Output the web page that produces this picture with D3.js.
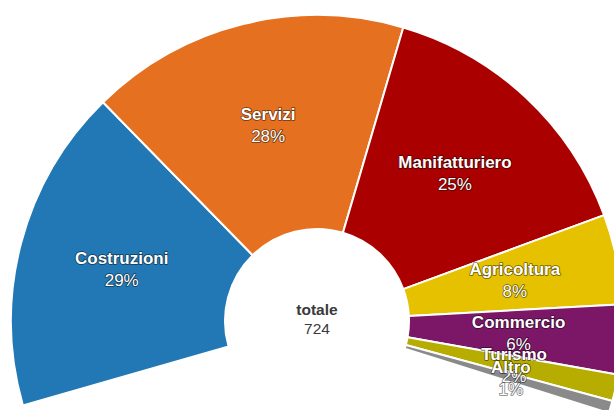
<!DOCTYPE html>
<html>
<head>
<meta charset="utf-8">
<script src="https://cdn.jsdelivr.net/npm/d3@7"></script>
<style>
  body { margin: 0; background: #fff; }
  svg { display: block; font-family: "Liberation Sans", Arial, sans-serif; }
</style>
</head>
<body>
<div id="wrapper"></div>
<script>
// data
const categories = ["Costruzioni", "Servizi", "Manifatturiero", "Agricoltura", "Commercio", "Turismo", "Altro"]
const counts = [209, 206, 181, 58, 45, 17, 8]
const percentLabels = ["29%", "28%", "25%", "8%", "6%", "2%", "1%"]
const colors = ["#2178b4", "#e5701f", "#ab0000", "#e5c100", "#7c1767", "#b6ad00", "#8a8a8a"]
const totalLabel = "totale"
const totalValue = 724

function drawChart() {
  const width = 614
  const height = 410
  const center = { x: 317, y: 321 }
  const outerRadius = 306
  const innerRadius = 92

  const dataset = categories.map((c, i) => ({ name: c, value: counts[i], pct: percentLabels[i], color: colors[i] }))

  const svg = d3.select("#wrapper")
    .append("svg")
    .attr("width", width)
    .attr("height", height)

  const bounds = svg.append("g")
    .attr("transform", `translate(${center.x},${center.y})`)

  // semi-donut, a bit wider than a half circle
  const pie = d3.pie()
    .sort(null)
    .value(d => d.value)
    .startAngle(-106 * Math.PI / 180)
    .endAngle(107.5 * Math.PI / 180)

  const arc = d3.arc()
    .innerRadius(innerRadius)
    .outerRadius(outerRadius)

  const slices = pie(dataset)

  // slices
  bounds.selectAll("path")
    .data(slices)
    .join("path")
    .attr("d", arc)
    .attr("fill", d => d.data.color)
    .attr("stroke", "#fff")
    .attr("stroke-width", 2)
    .attr("stroke-linejoin", "round")

  // labels
  const labelArc = d3.arc().innerRadius(202).outerRadius(202)
  const labels = bounds.selectAll(".label")
    .data(slices)
    .join("text")
    .attr("class", "label")
    .attr("text-anchor", "middle")
    .attr("font-size", 17)
    .attr("fill", "#fff")
    .attr("stroke", "rgba(0,0,0,0.55)")
    .attr("stroke-width", 1.6)
    .attr("stroke-linejoin", "round")
    .style("paint-order", "stroke")
    .attr("transform", d => {
      const [x, y] = labelArc.centroid(d)
      return `translate(${x},${y})`
    })

  labels.append("tspan")
    .attr("x", 0)
    .attr("y", -5)
    .attr("font-weight", "bold")
    .text(d => d.data.name)

  labels.append("tspan")
    .attr("x", 0)
    .attr("y", 17)
    .text(d => d.data.pct)

  // center total
  const total = bounds.append("text")
    .attr("text-anchor", "middle")
    .attr("fill", "#3a3a3a")
    .attr("font-size", 15.5)
  total.append("tspan").attr("x", 0).attr("y", -6).attr("font-weight", "bold").text(totalLabel)
  total.append("tspan").attr("x", 0).attr("y", 13).text(totalValue)
}
drawChart()
</script>
</body>
</html>
